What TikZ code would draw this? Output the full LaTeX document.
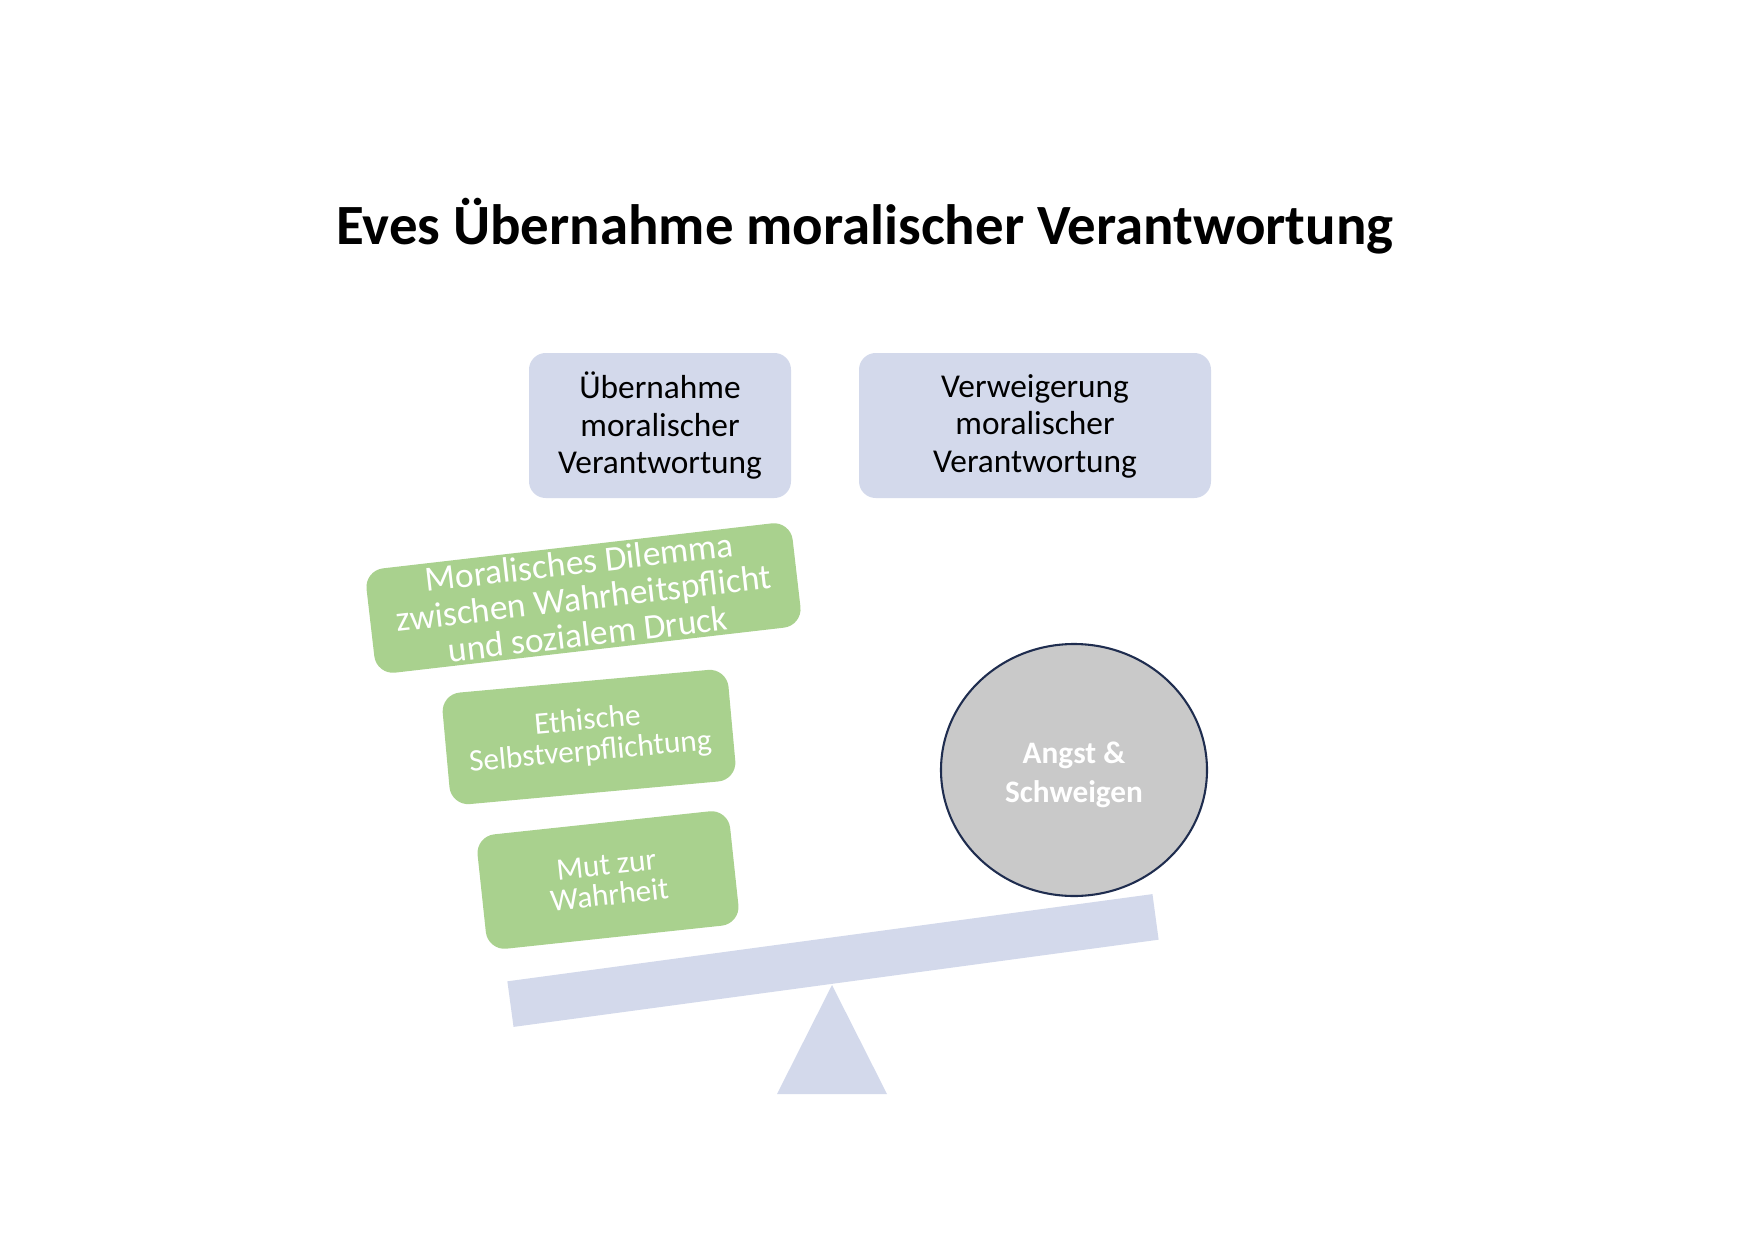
\documentclass[tikz,border=0pt]{standalone}
\usepackage{fontspec}
\setmainfont{Carlito}
\usetikzlibrary{shapes.geometric}
\definecolor{lav}{HTML}{D3D9EB}
\definecolor{grn}{HTML}{A9D18E}
\definecolor{gry}{HTML}{C9C9C9}
\definecolor{navy}{HTML}{1F2D4F}
\begin{document}
\begin{tikzpicture}[x=0.48pt, y=-0.48pt,
  topbox/.style={fill=lav, rounded corners=8pt, align=center, inner sep=0pt,
    font=\fontsize{16}{18}\selectfont},
  greenbox/.style={fill=grn, rounded corners=9pt, align=center, inner sep=0pt, text=white},
  weight/.style={ellipse, draw=navy, line width=1pt, fill=gry, inner sep=0pt},
  weighttext/.style={align=center, text=white, font=\bfseries\fontsize{15}{18.5}\selectfont},
  beamstyle/.style={fill=lav, inner sep=0pt}]
\useasboundingbox (0,0) rectangle (1754,1241);
\node[font=\bfseries\fontsize{27.3}{33}\selectfont, anchor=base] (title) at (865,244)
  {Eves Übernahme moralischer Verantwortung};
\node[topbox, minimum width={262*0.48pt}, minimum height={145*0.48pt}] (ueb) at (660,425.5)
  {Übernahme\\moralischer\\Verantwortung};
\node[topbox, minimum width={352*0.48pt}, minimum height={145*0.48pt}] (verw) at (1035,425.5)
  {\rule{0pt}{11.5pt}Verweigerung\\moralischer\\Verantwortung};
% balance
\node[beamstyle, rotate=7.7, minimum width={651*0.48pt}, minimum height={46*0.48pt}] (beam) at (833,960.5) {};
\coordinate (apex) at (832,985);
\coordinate (bl) at (777,1094);
\coordinate (br) at (887,1094);
\fill[lav] (apex) -- (br) -- (bl) -- cycle;
% green blocks
\node[greenbox, rotate=6.6, minimum width={429*0.48pt}, minimum height={105*0.48pt},
  font=\fontsize{17}{17.4}\selectfont] (dil) at (583.5,598)
  {Moralisches Dilemma\\zwischen Wahrheitspflicht\\und sozialem Druck};
\node[greenbox, rotate=5.2, minimum width={287*0.48pt}, minimum height={112*0.48pt},
  font=\fontsize{15}{15}\selectfont] (eth) at (589,737)
  {Ethische\\Selbstverpflichtung};
\node[greenbox, rotate=6.1, minimum width={254*0.48pt}, minimum height={115*0.48pt},
  font=\fontsize{15}{14.5}\selectfont] (mut) at (608,880)
  {Mut zur\\Wahrheit};
% weight
\node[weight, minimum width={266*0.48pt}, minimum height={252*0.48pt}] (angst) at (1074,770) {};
\node[weighttext] (angsttext) at (1074,775) {Angst \&\\Schweigen};
\end{tikzpicture}
\end{document}
